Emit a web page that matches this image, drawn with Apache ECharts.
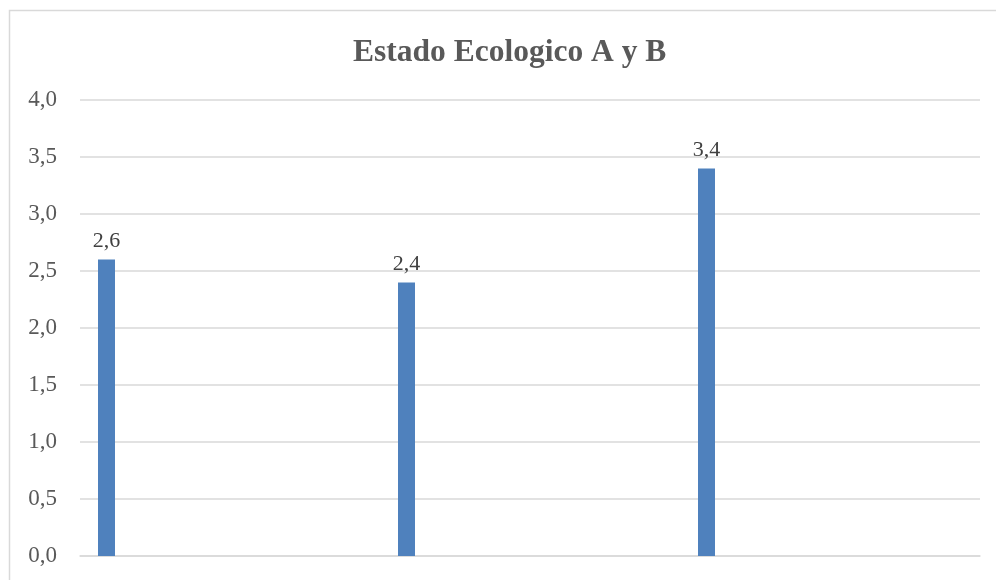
<!DOCTYPE html>
<html><head><meta charset="utf-8">
<script src="https://cdn.jsdelivr.net/npm/echarts@6/dist/echarts.min.js"></script>
<style>html,body{margin:0;padding:0;background:#fff}#c{width:996px;height:580px}</style>
</head><body><div id="c"></div>
<script>
const titleText = 'Estado Ecologico A y B';
const categories = ['1', '2', '3'];
const values = [2.6, 2.4, 3.4];
const yTicks = { min: 0, max: 4, interval: 0.5 };

const chart = echarts.init(document.getElementById('c'));
chart.setOption({
  animation: false,
  backgroundColor: '#fff',
  graphic: [{
    type: 'rect', silent: true, z: -10,
    shape: { x: 9.5, y: 10.5, width: 1200, height: 700 },
    style: { fill: 'none', stroke: '#D9D9D9', lineWidth: 1.5 }
  }],
  title: {
    text: titleText, left: 348, top: 32,
    textStyle: { fontFamily: 'Liberation Serif', fontWeight: 'bold', fontSize: 31.5, color: '#595959' }
  },
  grid: { left: 80, right: 16, top: 100, bottom: 24 },
  xAxis: {
    type: 'category', data: categories,
    axisLine: { show: true, lineStyle: { color: '#D9D9D9', width: 1.5 } },
    axisTick: { show: false }, axisLabel: { show: false }
  },
  yAxis: {
    type: 'value', min: yTicks.min, max: yTicks.max, interval: yTicks.interval,
    axisLine: { show: false }, axisTick: { show: false },
    axisLabel: {
      margin: 23, color: '#595959', fontFamily: 'Liberation Serif', fontSize: 23,
      formatter: v => v.toFixed(1).replace('.', ',')
    },
    splitLine: { lineStyle: { color: '#D9D9D9', width: 1.5 } }
  },
  series: [{
    type: 'bar', data: values, barWidth: 17, barGap: '0%',
    itemStyle: { color: '#4F81BD' },
    label: {
      show: true, position: 'top', distance: 7, color: '#404040',
      fontFamily: 'Liberation Serif', fontSize: 22,
      formatter: p => p.value.toFixed(1).replace('.', ',')
    }
  }, {
    type: 'bar', data: ['-', '-', '-'], barWidth: 247, silent: true
  }]
});
</script></body></html>
